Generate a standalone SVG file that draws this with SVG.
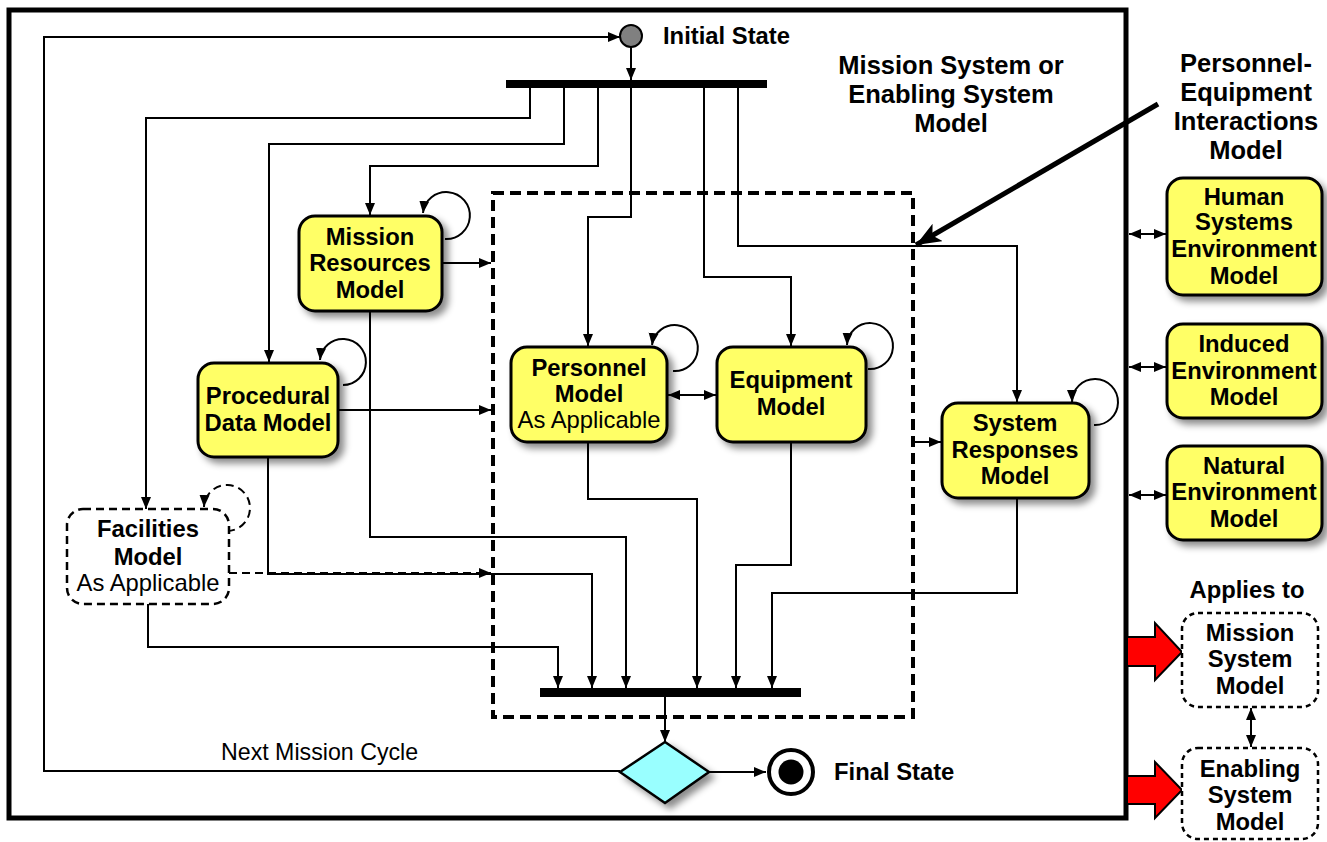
<svg xmlns="http://www.w3.org/2000/svg" width="1327" height="842" viewBox="0 0 1327 842">
  <defs>
    <style>
      .box { fill: #ffff66; stroke: #000; stroke-width: 3; }
      .dbox { fill: #fff; stroke: #000; stroke-width: 2.5; stroke-dasharray: 8 5; }
      .obox { fill: #fff; stroke: #000; stroke-width: 2.5; stroke-dasharray: 5 4; }
      .t { font-family: "Liberation Sans", Arial, sans-serif; font-weight: bold; font-size: 23.8px; text-anchor: middle; fill: #000; }
      .r { font-weight: normal; }
      .h { font-size: 25.5px; }
      .s { text-anchor: start; }
      .w { fill: none; stroke: #000; stroke-width: 2; }
      .dw { fill: none; stroke: #000; stroke-width: 2; stroke-dasharray: 8 5; }
      .a { marker-end: url(#ah); }
      .aa { marker-start: url(#ah); marker-end: url(#ah); }
    </style>
    <marker id="ah" markerUnits="userSpaceOnUse" markerWidth="14" markerHeight="12" refX="12" refY="6" orient="auto-start-reverse">
      <path d="M0,1 L12,6 L0,11 Z" fill="#000"/>
    </marker>
    <marker id="big" markerUnits="userSpaceOnUse" markerWidth="26" markerHeight="20" refX="25" refY="10" orient="auto">
      <path d="M0,0 L25,10 L0,20 L6,10 Z" fill="#000"/>
    </marker>
    <filter id="sh" x="-20%" y="-20%" width="150%" height="150%">
      <feDropShadow dx="5" dy="5" stdDeviation="3.5" flood-color="#000" flood-opacity="0.45"/>
    </filter>
  </defs>

  <rect width="1327" height="842" fill="#fff"/>

  <!-- outer system boundary -->
  <rect id="frame" x="9" y="10" width="1117" height="808" fill="none" stroke="#000" stroke-width="5"/>

  <!-- dashed personnel/equipment interaction region -->
  <rect id="interaction-region" x="493" y="193" width="420" height="524" fill="none" stroke="#000" stroke-width="4" stroke-dasharray="11 6"/>

  <!-- fork and join bars -->
  <rect id="fork-bar" x="506" y="80" width="261" height="8" fill="#000"/>
  <rect id="join-bar" x="540" y="688" width="261" height="9" fill="#000"/>

  <g id="connectors">
    <path class="w a" d="M631,47 V80"/>
    <path class="w a" d="M620,771 H44 V37 H620"/>
    <path class="w a" d="M530,88 V118 H146 V509"/>
    <path class="w a" d="M564,88 V144 H269 V362"/>
    <path class="w a" d="M598,88 V166 H370 V215"/>
    <path class="w a" d="M631,88 V217 H588 V346"/>
    <path class="w a" d="M704,88 V277 H791 V346"/>
    <path class="w a" d="M738,88 V246 H1017 V402"/>
    <path class="w a" d="M442,263 H491"/>
    <path class="w a" d="M338,410 H491"/>
    <path class="dw a" d="M229,573 H491"/>
    <path class="w a" d="M913,442 H941"/>
    <path class="w aa" d="M668,395 H716"/>
    <path class="w a" d="M370,311 V537 H626 V688"/>
    <path class="w a" d="M268,457 V574 H592 V688"/>
    <path class="w a" d="M148,604 V647 H558 V688"/>
    <path class="w a" d="M588,442 V499 H697 V688"/>
    <path class="w a" d="M791,442 V565 H736 V688"/>
    <path class="w a" d="M1017,498 V593 H772 V688"/>
    <path class="w a" d="M665,697 V742"/>
    <path class="w a" d="M709,772 H766"/>
    <path class="w aa" d="M1129,234 H1166"/>
    <path class="w aa" d="M1129,367 H1166"/>
    <path class="w aa" d="M1129,495 H1166"/>
    <path class="w aa" d="M1251,708 V747"/>
    <!-- self transitions -->
    <path class="w a" d="M445,239 A23.5,23.5 0 1 0 423,213"/>
    <path class="w a" d="M343,385 A23,23 0 1 0 320,360"/>
    <path class="w a" d="M673,371 A23,23 0 1 0 652,345"/>
    <path class="w a" d="M868,369 A23,23 0 1 0 847,345"/>
    <path class="w a" d="M1094,425 A23,23 0 1 0 1072,402"/>
    <path class="dw a" d="M227,531 A23,23 0 1 0 204,507"/>
    <!-- interactions pointer -->
    <path d="M1158,104 L916,245" fill="none" stroke="#000" stroke-width="5" marker-end="url(#big)"/>
  </g>

  <g id="initial-state">
    <circle cx="631" cy="36" r="11" fill="#808080" stroke="#000" stroke-width="2"/>
    <text class="t s" x="663" y="44">Initial State</text>
  </g>

  <g id="mission-resources">
    <rect class="box" x="299" y="216" width="143" height="95" rx="16" filter="url(#sh)"/>
    <text class="t" x="370" y="245">Mission</text>
    <text class="t" x="370" y="271">Resources</text>
    <text class="t" x="370" y="298">Model</text>
  </g>

  <g id="procedural-data">
    <rect class="box" x="198" y="363" width="140" height="94" rx="16" filter="url(#sh)"/>
    <text class="t" x="268" y="404">Procedural</text>
    <text class="t" x="268" y="431">Data Model</text>
  </g>

  <g id="facilities">
    <rect class="dbox" x="67" y="509" width="162" height="95" rx="16"/>
    <text class="t" x="148" y="537">Facilities</text>
    <text class="t" x="148" y="565">Model</text>
    <text class="t r" x="148" y="591">As Applicable</text>
  </g>

  <g id="personnel">
    <rect class="box" x="511" y="347" width="156" height="95" rx="16" filter="url(#sh)"/>
    <text class="t" x="589" y="376">Personnel</text>
    <text class="t" x="589" y="402">Model</text>
    <text class="t r" x="589" y="428">As Applicable</text>
  </g>

  <g id="equipment">
    <rect class="box" x="717" y="347" width="149" height="95" rx="16" filter="url(#sh)"/>
    <text class="t" x="791" y="388">Equipment</text>
    <text class="t" x="791" y="415">Model</text>
  </g>

  <g id="system-responses">
    <rect class="box" x="942" y="403" width="147" height="95" rx="16" filter="url(#sh)"/>
    <text class="t" x="1015" y="431">System</text>
    <text class="t" x="1015" y="458">Responses</text>
    <text class="t" x="1015" y="484">Model</text>
  </g>

  <g id="decision">
    <polygon points="665,742 709,772 665,803 620,772" fill="#99ffff" stroke="#000" stroke-width="2.5" filter="url(#sh)"/>
    <text class="t r s" x="221" y="760" style="font-size:23.2px">Next Mission Cycle</text>
  </g>

  <g id="final-state">
    <circle cx="791" cy="772" r="22" fill="#fff" stroke="#000" stroke-width="4"/>
    <circle cx="791" cy="772" r="12.5" fill="#000"/>
    <text class="t s" x="834" y="780">Final State</text>
  </g>

  <g id="system-title">
    <text class="t h" x="951" y="74">Mission System or</text>
    <text class="t h" x="951" y="103">Enabling System</text>
    <text class="t h" x="951" y="132">Model</text>
  </g>

  <g id="interactions-title">
    <text class="t h" x="1246" y="72">Personnel-</text>
    <text class="t h" x="1246" y="101">Equipment</text>
    <text class="t h" x="1246" y="130">Interactions</text>
    <text class="t h" x="1246" y="159">Model</text>
  </g>

  <g id="human-systems-env">
    <rect class="box" x="1167" y="178" width="155" height="117" rx="16" filter="url(#sh)"/>
    <text class="t" x="1244" y="205">Human</text>
    <text class="t" x="1244" y="230">Systems</text>
    <text class="t" x="1244" y="257">Environment</text>
    <text class="t" x="1244" y="284">Model</text>
  </g>

  <g id="induced-env">
    <rect class="box" x="1167" y="324" width="155" height="94" rx="16" filter="url(#sh)"/>
    <text class="t" x="1244" y="352">Induced</text>
    <text class="t" x="1244" y="379">Environment</text>
    <text class="t" x="1244" y="405">Model</text>
  </g>

  <g id="natural-env">
    <rect class="box" x="1167" y="446" width="155" height="94" rx="16" filter="url(#sh)"/>
    <text class="t" x="1244" y="474">Natural</text>
    <text class="t" x="1244" y="500">Environment</text>
    <text class="t" x="1244" y="527">Model</text>
  </g>

  <g id="applies-to">
    <text class="t" x="1247" y="598">Applies to</text>
    <path d="M1127,637 H1155 V623 L1182,652 L1155,680 V666 H1127 Z" fill="#ff0000" stroke="#000" stroke-width="2"/>
    <path d="M1127,776 H1155 V762 L1182,790 L1155,818 V804 H1127 Z" fill="#ff0000" stroke="#000" stroke-width="2"/>
  </g>

  <g id="mission-system">
    <rect class="obox" x="1182" y="613" width="136" height="94" rx="16"/>
    <text class="t" x="1250" y="641">Mission</text>
    <text class="t" x="1250" y="667">System</text>
    <text class="t" x="1250" y="694">Model</text>
  </g>

  <g id="enabling-system">
    <rect class="obox" x="1182" y="748" width="136" height="91" rx="16"/>
    <text class="t" x="1250" y="777">Enabling</text>
    <text class="t" x="1250" y="803">System</text>
    <text class="t" x="1250" y="830">Model</text>
  </g>
</svg>
